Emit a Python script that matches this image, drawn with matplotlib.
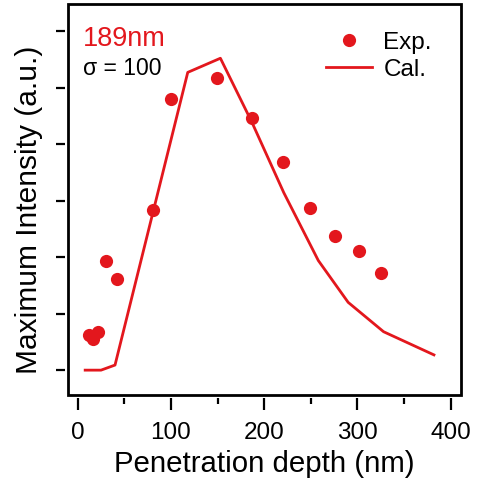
import matplotlib
matplotlib.use("Agg")
import matplotlib.pyplot as plt
from matplotlib.patches import Rectangle

plt.rcParams["font.family"] = ["Liberation Sans", "DejaVu Sans"]

# experimental points (penetration depth nm, intensity a.u.)
exp_depth = [12, 16, 22, 30, 42, 81, 100, 149, 187, 220, 249, 276, 302, 325]
exp_int = [0.62, 0.55, 0.68, 1.93, 1.62, 2.84, 4.80, 5.17, 4.46, 3.68, 2.87, 2.38, 2.11, 1.72]

# calculated curve
cal_depth = [8, 25, 40, 118, 153, 187, 221, 258, 290, 328, 382]
cal_int = [0.0, 0.0, 0.09, 5.27, 5.52, 4.38, 3.14, 1.94, 1.20, 0.68, 0.27]

red = "#e3171d"

fig = plt.figure(figsize=(4.8, 4.81), dpi=100)
ax = fig.add_axes([0.1417, 0.1767, 0.8187, 0.8129])

ax.plot(exp_depth, exp_int, "o", color=red, markersize=9.5, markeredgewidth=0, label="Exp.", zorder=3)
ax.plot(cal_depth, cal_int, "-", color=red, linewidth=2, label="Cal.", zorder=2)

ax.set_xlim(-10.4, 411)
ax.set_ylim(-0.44, 6.48)
ax.set_xticks([0, 100, 200, 300, 400])
ax.set_xticks([50, 150, 250, 350], minor=True)
ax.set_yticks(range(7))
ax.set_yticklabels([])

# ticks sit outside, detached from the frame
for side in ["left", "bottom"]:
    ax.spines[side].set_position(("outward", 2.5))
    ax.spines[side].set_visible(False)
for side in ["top", "right"]:
    ax.spines[side].set_visible(False)
ax.add_patch(Rectangle((0, 0), 1, 1, transform=ax.transAxes, fill=False,
                       linewidth=2, edgecolor="black", clip_on=False, zorder=5))

ax.tick_params(axis="x", which="major", direction="out", length=8.5, width=1.6, labelsize=17.5, pad=8)
ax.tick_params(axis="x", which="minor", direction="out", length=4, width=1.6)
ax.tick_params(axis="y", which="major", direction="out", length=6.5, width=1.6)

ax.set_xlabel("Penetration depth (nm)", fontsize=21.2)
ax.xaxis.set_label_coords(0.5, -0.138)
ax.set_ylabel("Maximum Intensity (a.u.)", fontsize=21.5)
ax.yaxis.set_label_coords(-0.099, 0.477)
ax.yaxis.label.set_va("center")

ax.text(0.037, 0.913, "189nm", transform=ax.transAxes, color=red, fontsize=19.5, va="center")
ax.text(0.037, 0.838, "σ = 100", transform=ax.transAxes, color="black", fontsize=16.5, va="center")

ax.legend(loc="upper right", bbox_to_anchor=(0.926, 0.93), frameon=False, fontsize=17.5,
          handlelength=1.9, handletextpad=0.45, labelspacing=0.2, borderaxespad=0, borderpad=0)

fig.savefig("out.png", dpi=100)
